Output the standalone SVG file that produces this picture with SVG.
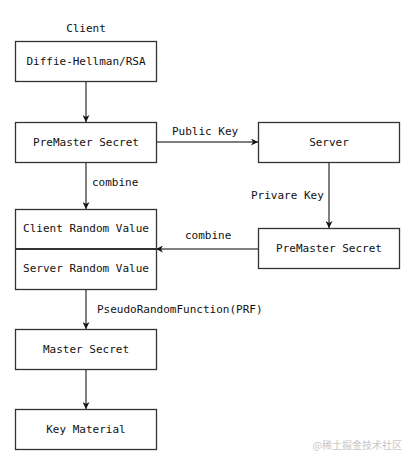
<svg xmlns="http://www.w3.org/2000/svg" width="415" height="464" viewBox="0 0 415 464">
<style>
.box{fill:#fff;stroke:#333;stroke-width:1.3}
.t{font-family:"DejaVu Sans Mono",monospace;font-size:11px;fill:#111;text-anchor:middle}
.l{font-family:"DejaVu Sans Mono",monospace;font-size:11px;fill:#111}
.c{fill:none;stroke:#555;stroke-width:1.5}
</style>
<defs>
<marker id="a" viewBox="0 0 10 10" refX="10" refY="5" markerWidth="7" markerHeight="7" markerUnits="userSpaceOnUse" orient="auto">
<path d="M0,0 L10,5 L0,10 L3,5 Z" fill="#111"/>
</marker>
</defs>
<rect width="415" height="464" fill="#fff"/>
<text class="t" x="86" y="32">Client</text>
<g id="connectors">
<line class="c" x1="86" y1="81" x2="86" y2="122" marker-end="url(#a)"/>
<line class="c" x1="156" y1="142" x2="258" y2="142" marker-end="url(#a)"/>
<line class="c" x1="86" y1="162" x2="86" y2="209" marker-end="url(#a)"/>
<line class="c" x1="329" y1="162" x2="329" y2="228" marker-end="url(#a)"/>
<line class="c" x1="258" y1="249" x2="156" y2="249" marker-end="url(#a)"/>
<line class="c" x1="86" y1="289" x2="86" y2="329" marker-end="url(#a)"/>
<line class="c" x1="86" y1="369" x2="86" y2="409" marker-end="url(#a)"/>
<text class="l" x="172" y="135">Public Key</text>
<text class="l" x="92" y="186">combine</text>
<text class="l" x="251" y="199">Privare Key</text>
<text class="l" x="185" y="239">combine</text>
<text class="l" x="97" y="313">PseudoRandomFunction(PRF)</text>
</g>
<g id="dh"><rect class="box" x="15.5" y="41.5" width="141" height="40"/><text class="t" x="86" y="65">Diffie-Hellman/RSA</text></g>
<g id="pms1"><rect class="box" x="15.5" y="122.5" width="141" height="40"/><text class="t" x="86" y="146">PreMaster Secret</text></g>
<g id="server"><rect class="box" x="258.5" y="122.5" width="141" height="40"/><text class="t" x="329" y="146">Server</text></g>
<g id="pms2"><rect class="box" x="258.5" y="228.5" width="141" height="40"/><text class="t" x="329" y="252">PreMaster Secret</text></g>
<g id="random"><rect class="box" x="15.5" y="209.5" width="141" height="80"/><line x1="15.5" y1="249" x2="156.5" y2="249" stroke="#333" stroke-width="2"/><text class="t" x="86" y="232">Client Random Value</text><text class="t" x="86" y="272">Server Random Value</text></g>
<g id="master"><rect class="box" x="15.5" y="329.5" width="141" height="40"/><text class="t" x="86" y="353">Master Secret</text></g>
<g id="keymat"><rect class="box" x="15.5" y="409.5" width="141" height="40"/><text class="t" x="86" y="433">Key Material</text></g>
<text x="402" y="449" font-family="Noto Sans CJK SC,sans-serif" font-size="10" fill="#c8c8c8" text-anchor="end">@稀土掘金技术社区</text>
</svg>
